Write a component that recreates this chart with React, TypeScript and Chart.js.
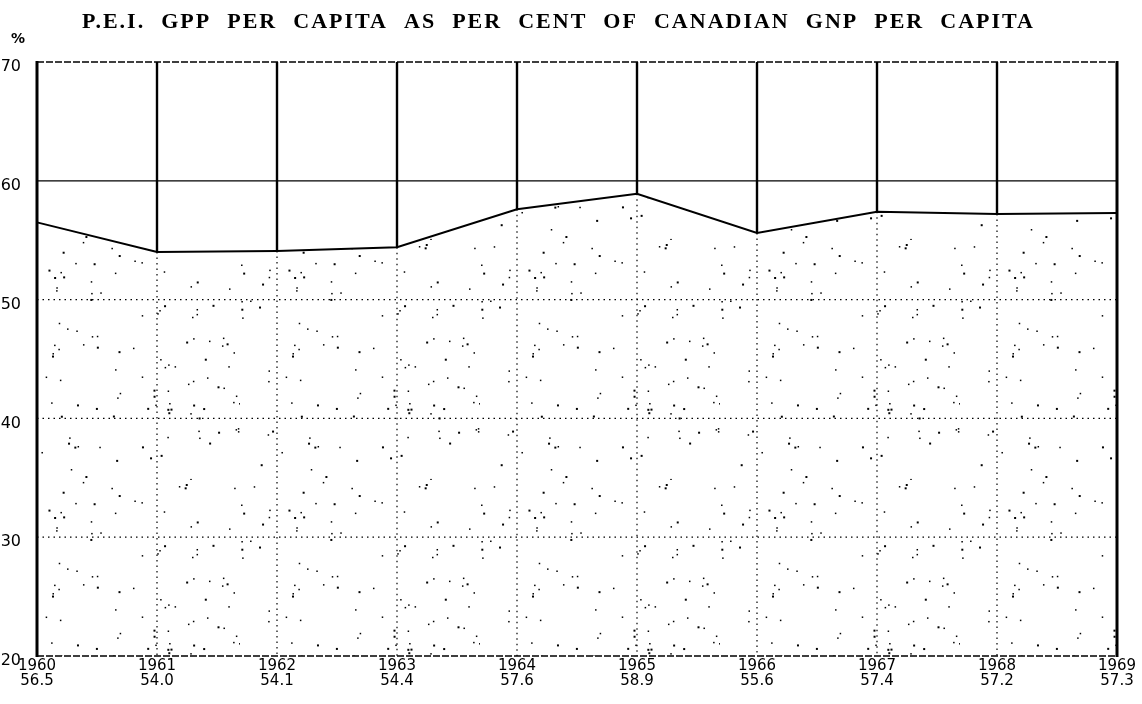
import React, { useEffect, useRef } from "react";
import { Chart, registerables } from "chart.js";

Chart.register(...registerables);

const TITLE = "P.E.I. GPP PER CAPITA AS PER CENT OF CANADIAN GNP PER CAPITA";
const UNIT_LABEL = "%";
const years = ["1960", "1961", "1962", "1963", "1964", "1965", "1966", "1967", "1968", "1969"];
const valueLabels = ["56.5", "54.0", "54.1", "54.4", "57.6", "58.9", "55.6", "57.4", "57.2", "57.3"];
const values = [56.5, 54.0, 54.1, 54.4, 57.6, 58.9, 55.6, 57.4, 57.2, 57.3];
const Y_MIN = 20;
const Y_MAX = 70;
const Y_STEP = 10;
const SOLID_GRID_VALUE = 60;

function makeStipple(): CanvasPattern | string {
  const c = document.createElement("canvas");
  c.width = 240;
  c.height = 240;
  const g = c.getContext("2d");
  if (!g) return "rgba(0,0,0,0.05)";
  let s = 12345;
  const rnd = () => {
    s = (s * 1103515245 + 12345) & 0x7fffffff;
    return s / 0x7fffffff;
  };
  g.fillStyle = "#000";
  for (let i = 0; i < 130; i++) {
    const x = rnd() * 240;
    const y = rnd() * 240;
    const w = rnd() < 0.4 ? 2 : 1.5;
    g.fillRect(x, y, w, w);
  }
  const p = g.createPattern(c, "repeat");
  return p || "rgba(0,0,0,0.05)";
}

const paperPlugin = {
  id: "paperPlugin",
  afterDatasetsDraw(chart: any) {
    const { ctx, chartArea } = chart;
    const xs = chart.scales.x;
    const ys = chart.scales.y;
    const { left, right, top, bottom } = chartArea;
    ctx.save();
    ctx.strokeStyle = "#000";

    // dotted horizontal grid
    ctx.lineWidth = 1.2;
    ctx.setLineDash([1.5, 4]);
    for (let v = Y_MIN + Y_STEP; v < Y_MAX; v += Y_STEP) {
      if (v === SOLID_GRID_VALUE) continue;
      const y = ys.getPixelForValue(v);
      ctx.beginPath();
      ctx.moveTo(left, y);
      ctx.lineTo(right, y);
      ctx.stroke();
    }
    // dotted verticals below the line
    for (let i = 1; i < values.length - 1; i++) {
      const x = xs.getPixelForValue(i);
      const y = ys.getPixelForValue(values[i]);
      ctx.beginPath();
      ctx.moveTo(x, y);
      ctx.lineTo(x, bottom);
      ctx.stroke();
    }
    // top and bottom dashed borders
    ctx.lineWidth = 1.6;
    ctx.setLineDash([7, 2]);
    ctx.beginPath();
    ctx.moveTo(left, top);
    ctx.lineTo(right, top);
    ctx.moveTo(left, bottom);
    ctx.lineTo(right, bottom);
    ctx.stroke();

    // solid 60 line
    ctx.setLineDash([]);
    ctx.lineWidth = 1.3;
    const y60 = ys.getPixelForValue(SOLID_GRID_VALUE);
    ctx.beginPath();
    ctx.moveTo(left, y60);
    ctx.lineTo(right, y60);
    ctx.stroke();

    // solid verticals above the line
    ctx.lineWidth = 2.4;
    for (let i = 1; i < values.length - 1; i++) {
      const x = xs.getPixelForValue(i);
      const y = ys.getPixelForValue(values[i]);
      ctx.beginPath();
      ctx.moveTo(x, top);
      ctx.lineTo(x, y);
      ctx.stroke();
    }
    // side axes
    ctx.lineWidth = 3;
    ctx.beginPath();
    ctx.moveTo(left, top - 1);
    ctx.lineTo(left, bottom + 1);
    ctx.moveTo(right, top - 1);
    ctx.lineTo(right, bottom + 1);
    ctx.stroke();

    // title
    ctx.fillStyle = "#000";
    ctx.font = "bold 22px 'Liberation Serif', serif";
    ctx.textBaseline = "alphabetic";
    ctx.textAlign = "left";
    const tStart = 82;
    const tEnd = 1035;
    const c2 = ctx as any;
    c2.letterSpacing = "2px";
    c2.wordSpacing = "0px";
    const w0 = ctx.measureText(TITLE).width;
    const nSpaces = TITLE.split(" ").length - 1;
    const ws = Math.max(0, (tEnd - tStart - w0) / nSpaces);
    c2.wordSpacing = ws + "px";
    ctx.fillText(TITLE, tStart, 28);
    c2.letterSpacing = "0px";
    c2.wordSpacing = "0px";

    // unit label
    ctx.font = "bold 14px 'DejaVu Sans', sans-serif";
    ctx.fillText(UNIT_LABEL, 11, 43);
    ctx.restore();
  },
};

export default function App() {
  const ref = useRef<HTMLCanvasElement | null>(null);
  useEffect(() => {
    if (!ref.current) return;
    const stipple = makeStipple();
    const chart = new Chart(ref.current, {
      type: "line",
      data: {
        labels: years.map((y, i) => [y, valueLabels[i]]),
        datasets: [
          {
            data: values,
            borderColor: "#000",
            borderWidth: 2,
            pointRadius: 0,
            tension: 0,
            fill: "start",
            backgroundColor: stipple as any,
          },
        ],
      },
      options: {
        animation: false,
        responsive: false,
        maintainAspectRatio: false,
        layout: { padding: { top: 62, right: 25, left: 0, bottom: 0 } },
        plugins: { legend: { display: false }, tooltip: { enabled: false }, title: { display: false } },
        scales: {
          x: {
            type: "category",
            offset: false,
            grid: { display: false },
            border: { display: false },
            afterFit: (s: any) => {
              s.height = 48;
            },
            ticks: {
              color: "#000",
              padding: -5,
              maxRotation: 0,
              autoSkip: false,
              font: { family: "'DejaVu Sans', sans-serif", size: 15, lineHeight: 1.0 },
            },
          },
          y: {
            min: Y_MIN,
            max: Y_MAX,
            grid: { display: false },
            border: { display: false },
            afterFit: (s: any) => {
              s.width = 37;
            },
            ticks: {
              stepSize: Y_STEP,
              color: "#000",
              padding: 8,
              labelOffset: 5,
              font: { family: "'DejaVu Sans', sans-serif", size: 16 },
            },
          },
        },
      },
      plugins: [paperPlugin],
    });
    return () => chart.destroy();
  }, []);
  return (
    <div style={{ position: "fixed", left: 0, top: 0, width: 1142, height: 704, background: "#fff" }}>
      <canvas ref={ref} width={1142} height={704} style={{ width: 1142, height: 704, display: "block" }} />
    </div>
  );
}
